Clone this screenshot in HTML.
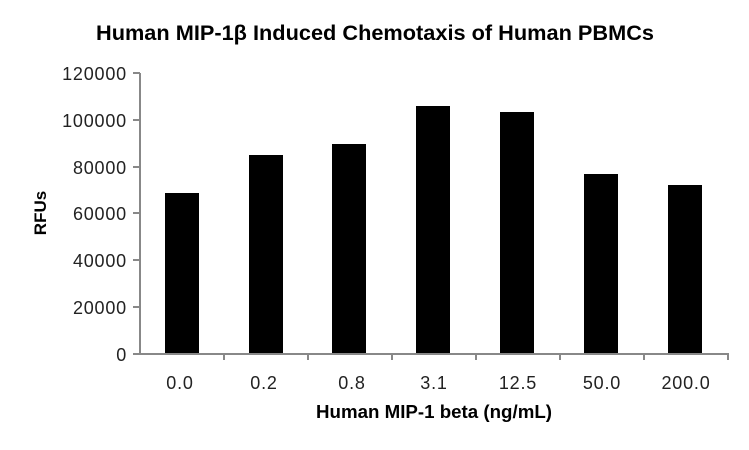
<!DOCTYPE html>
<html><head><style>
body{margin:0;background:#fff;}
svg{display:block;font-family:"Liberation Sans",sans-serif;}
</style></head><body>
<svg width="749" height="450" xmlns="http://www.w3.org/2000/svg">
<text x="375" y="40" text-anchor="middle" font-size="21" font-weight="bold" fill="#000" textLength="558" lengthAdjust="spacingAndGlyphs">Human MIP-1β Induced Chemotaxis of Human PBMCs</text>
<g fill="#000">
<rect x="165" y="193" width="34" height="161"/>
<rect x="249" y="155" width="34" height="199"/>
<rect x="332" y="144" width="34" height="210"/>
<rect x="416" y="106" width="34" height="248"/>
<rect x="500" y="112" width="34" height="242"/>
<rect x="584" y="174" width="34" height="180"/>
<rect x="668" y="185" width="34" height="169"/>
</g>
<g stroke="#888" stroke-width="2" fill="none">
<line x1="140" y1="73" x2="140" y2="355"/>
<line x1="139" y1="354" x2="729" y2="354"/>
<line x1="133" y1="73" x2="140" y2="73"/>
<line x1="133" y1="120" x2="140" y2="120"/>
<line x1="133" y1="167" x2="140" y2="167"/>
<line x1="133" y1="213" x2="140" y2="213"/>
<line x1="133" y1="260" x2="140" y2="260"/>
<line x1="133" y1="307" x2="140" y2="307"/>
<line x1="133" y1="354" x2="140" y2="354"/>
<line x1="224" y1="354" x2="224" y2="360"/>
<line x1="308" y1="354" x2="308" y2="360"/>
<line x1="392" y1="354" x2="392" y2="360"/>
<line x1="476" y1="354" x2="476" y2="360"/>
<line x1="560" y1="354" x2="560" y2="360"/>
<line x1="644" y1="354" x2="644" y2="360"/>
<line x1="728" y1="354" x2="728" y2="360"/>
</g>
<g font-size="18" fill="#222" text-anchor="end" letter-spacing="0.8">
<text x="127" y="80">120000</text>
<text x="127" y="127">100000</text>
<text x="127" y="174">80000</text>
<text x="127" y="220">60000</text>
<text x="127" y="267">40000</text>
<text x="127" y="314">20000</text>
<text x="127" y="361">0</text>
</g>
<g font-size="18" fill="#222" text-anchor="middle" letter-spacing="0.8">
<text x="180" y="389">0.0</text>
<text x="264" y="389">0.2</text>
<text x="352" y="389">0.8</text>
<text x="434" y="389">3.1</text>
<text x="518" y="389">12.5</text>
<text x="602" y="389">50.0</text>
<text x="686" y="389">200.0</text>
</g>
<text x="434" y="418" text-anchor="middle" font-size="18" font-weight="bold" fill="#000" textLength="236" lengthAdjust="spacingAndGlyphs">Human MIP-1 beta (ng/mL)</text>
<text transform="translate(46,213) rotate(-90)" text-anchor="middle" font-size="17" font-weight="bold" fill="#000">RFUs</text>
</svg>
</body></html>
